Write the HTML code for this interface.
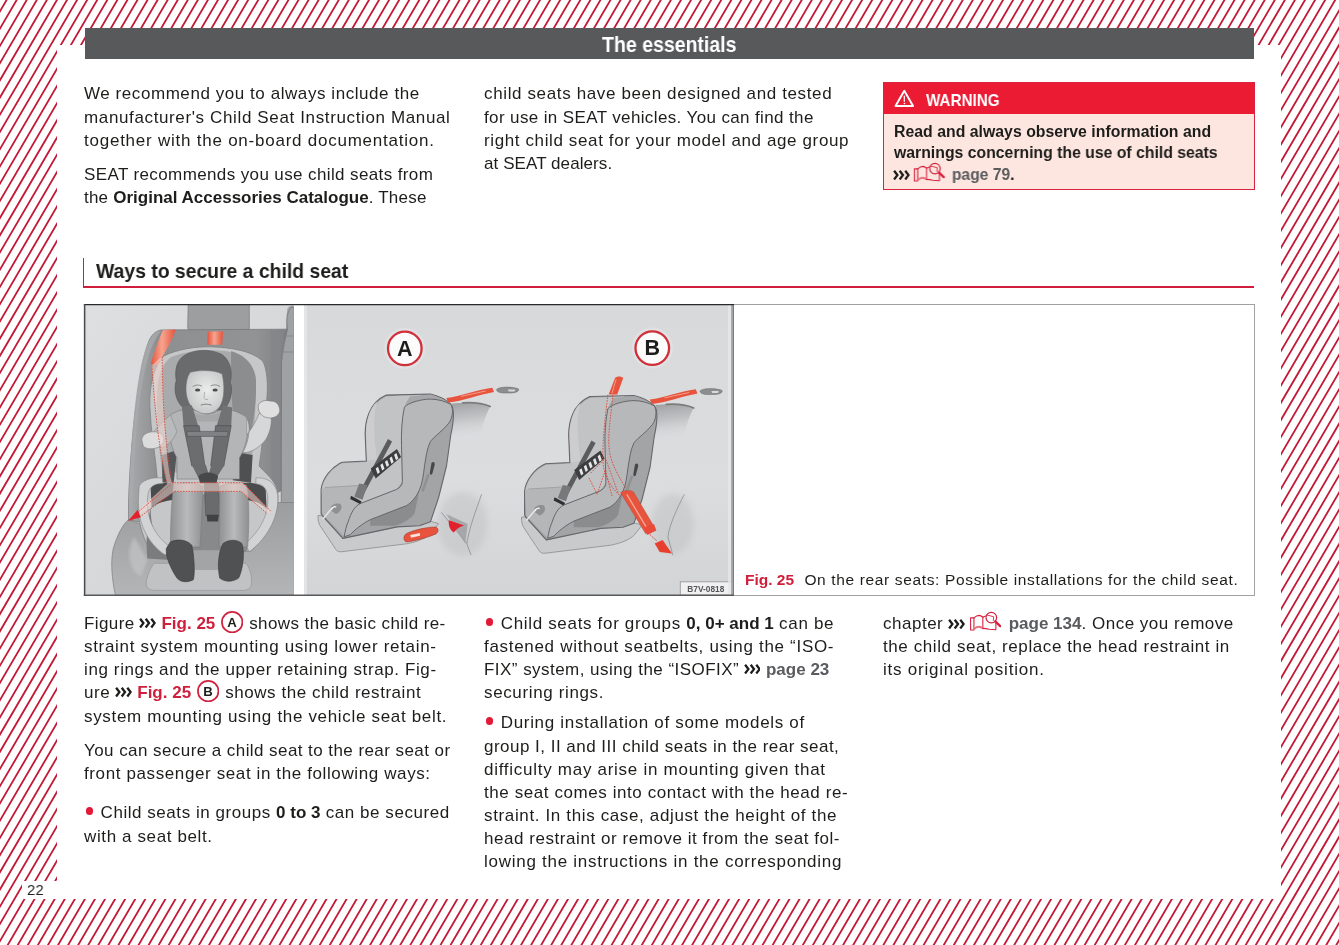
<!DOCTYPE html>
<html lang="en"><head><meta charset="utf-8"><title>The essentials</title>
<style>
html,body{margin:0;padding:0}
body{width:1339px;height:945px;position:relative;overflow:hidden;background:#fff;font-family:"Liberation Sans",sans-serif}
.bg{position:absolute;left:0;top:0;display:block}
.page{position:absolute;left:57.3px;top:44.8px;width:1223.7px;height:853.9px;background:#fff}
.pnbox{position:absolute;left:21.7px;top:881.1px;width:37px;height:17.6px;background:#fff}
.hbar{position:absolute;left:85px;top:28.4px;width:1168.6px;height:30.2px;background:#58595b}
.warn{position:absolute;left:883.2px;top:81.7px;width:369.4px;height:106px;border:1.2px solid #d8243f;background:#fde6df;box-sizing:content-box}
.warnhead{position:absolute;left:0;top:0;width:100%;height:31.8px;background:#ea1b33}
.tri{position:absolute;left:894.4px;top:88.9px;display:block}
.shv{position:absolute;left:83.4px;top:258.2px;width:1.1px;height:28.8px;background:#d01f3c}
.shh{position:absolute;left:83.3px;top:286.3px;width:1170.5px;height:1.3px;background:#d01f3c}
.frame{position:absolute;left:84.5px;top:304.3px;width:1168.3px;height:289.6px;border:1px solid #a0a1a3;background:#fff}
.illu{will-change:transform;position:absolute;left:83px;top:304px;display:block}
.ln{will-change:transform;position:absolute;white-space:nowrap;font-size:17px;line-height:20px;height:20px;color:#1d1d1b;transform-origin:0 0}
.ln b{font-weight:bold;letter-spacing:0}
.in{display:inline-block}
.bl{display:inline-block;width:0;height:0}
.wb{font-weight:bold;font-size:15.8px}
.wt{font-weight:bold;font-size:17px;color:#fff}
.ht{font-weight:bold;font-size:21.6px;color:#fff}
.sh{font-weight:bold;font-size:21px}
.cap{font-size:15.5px}
.capfig{display:inline-block;width:59.4px;letter-spacing:-0.7px}
.pn{font-size:15.5px;letter-spacing:0.4px}
.red{color:#d01f3c}
.grey{color:#5a5b5e;font-weight:bold}
.chev{display:inline-block;vertical-align:0.6px;margin:0 0.4px 0 -0.6px}
.circ{display:inline-block;vertical-align:-4.2px;margin:0 0.6px 0 0.6px}
.book{display:inline-block;vertical-align:-1.3px;margin:0 2.2px 0 -0.6px}
.bul{display:inline-block;width:7.6px;height:7.6px;border-radius:50%;background:#e21a37;vertical-align:3px;margin:0 2.2px 0 1.5px}

</style></head>
<body>
<svg class="bg" width="1339" height="945" viewBox="0 0 1339 945"><rect width="1339" height="945" fill="#fff"/><path d="M-12.36 -2L-567.15 947M-2.30 -2L-557.08 947M7.77 -2L-547.02 947M17.83 -2L-536.95 947M27.90 -2L-526.89 947M37.96 -2L-516.82 947M48.03 -2L-506.76 947M58.09 -2L-496.69 947M68.16 -2L-486.63 947M78.22 -2L-476.56 947M88.29 -2L-466.50 947M98.35 -2L-456.43 947M108.42 -2L-446.37 947M118.48 -2L-436.30 947M128.55 -2L-426.24 947M138.61 -2L-416.17 947M148.68 -2L-406.11 947M158.74 -2L-396.04 947M168.81 -2L-385.98 947M178.87 -2L-375.91 947M188.94 -2L-365.85 947M199.00 -2L-355.78 947M209.07 -2L-345.72 947M219.13 -2L-335.65 947M229.20 -2L-325.59 947M239.26 -2L-315.52 947M249.33 -2L-305.46 947M259.39 -2L-295.39 947M269.46 -2L-285.33 947M279.52 -2L-275.26 947M289.59 -2L-265.20 947M299.65 -2L-255.13 947M309.72 -2L-245.07 947M319.78 -2L-235.00 947M329.85 -2L-224.94 947M339.91 -2L-214.87 947M349.98 -2L-204.81 947M360.04 -2L-194.74 947M370.11 -2L-184.68 947M380.17 -2L-174.61 947M390.24 -2L-164.55 947M400.30 -2L-154.48 947M410.37 -2L-144.42 947M420.43 -2L-134.35 947M430.50 -2L-124.29 947M440.56 -2L-114.22 947M450.63 -2L-104.16 947M460.69 -2L-94.09 947M470.76 -2L-84.03 947M480.82 -2L-73.96 947M490.89 -2L-63.90 947M500.95 -2L-53.83 947M511.02 -2L-43.77 947M521.08 -2L-33.70 947M531.15 -2L-23.64 947M541.21 -2L-13.57 947M551.28 -2L-3.51 947M561.34 -2L6.56 947M571.41 -2L16.62 947M581.47 -2L26.69 947M591.54 -2L36.75 947M601.60 -2L46.82 947M611.67 -2L56.88 947M621.73 -2L66.95 947M631.80 -2L77.01 947M641.86 -2L87.08 947M651.93 -2L97.14 947M661.99 -2L107.21 947M672.06 -2L117.27 947M682.12 -2L127.34 947M692.19 -2L137.40 947M702.25 -2L147.47 947M712.32 -2L157.53 947M722.38 -2L167.60 947M732.45 -2L177.66 947M742.51 -2L187.73 947M752.58 -2L197.79 947M762.64 -2L207.86 947M772.71 -2L217.92 947M782.77 -2L227.99 947M792.84 -2L238.05 947M802.90 -2L248.12 947M812.97 -2L258.18 947M823.03 -2L268.25 947M833.10 -2L278.31 947M843.16 -2L288.38 947M853.23 -2L298.44 947M863.29 -2L308.51 947M873.36 -2L318.57 947M883.42 -2L328.64 947M893.49 -2L338.70 947M903.55 -2L348.77 947M913.62 -2L358.83 947M923.68 -2L368.90 947M933.75 -2L378.96 947M943.81 -2L389.03 947M953.88 -2L399.09 947M963.94 -2L409.16 947M974.01 -2L419.22 947M984.07 -2L429.29 947M994.14 -2L439.35 947M1004.20 -2L449.42 947M1014.27 -2L459.48 947M1024.33 -2L469.55 947M1034.40 -2L479.61 947M1044.46 -2L489.68 947M1054.53 -2L499.74 947M1064.59 -2L509.81 947M1074.66 -2L519.87 947M1084.72 -2L529.94 947M1094.79 -2L540.00 947M1104.85 -2L550.07 947M1114.92 -2L560.13 947M1124.98 -2L570.20 947M1135.05 -2L580.26 947M1145.11 -2L590.33 947M1155.18 -2L600.39 947M1165.24 -2L610.46 947M1175.31 -2L620.52 947M1185.37 -2L630.59 947M1195.44 -2L640.65 947M1205.50 -2L650.72 947M1215.57 -2L660.78 947M1225.63 -2L670.85 947M1235.70 -2L680.91 947M1245.76 -2L690.98 947M1255.83 -2L701.04 947M1265.89 -2L711.11 947M1275.96 -2L721.17 947M1286.02 -2L731.24 947M1296.09 -2L741.30 947M1306.15 -2L751.37 947M1316.22 -2L761.43 947M1326.28 -2L771.50 947M1336.35 -2L781.56 947M1346.41 -2L791.63 947M1356.48 -2L801.69 947M1366.54 -2L811.76 947M1376.61 -2L821.82 947M1386.67 -2L831.89 947M1396.74 -2L841.95 947M1406.80 -2L852.02 947M1416.87 -2L862.08 947M1426.93 -2L872.15 947M1437.00 -2L882.21 947M1447.06 -2L892.28 947M1457.13 -2L902.34 947M1467.19 -2L912.41 947M1477.26 -2L922.47 947M1487.32 -2L932.54 947M1497.39 -2L942.60 947M1507.45 -2L952.67 947M1517.52 -2L962.73 947M1527.58 -2L972.80 947M1537.65 -2L982.86 947M1547.71 -2L992.93 947M1557.78 -2L1002.99 947M1567.84 -2L1013.06 947M1577.91 -2L1023.12 947M1587.97 -2L1033.19 947M1598.04 -2L1043.25 947M1608.10 -2L1053.32 947M1618.17 -2L1063.38 947M1628.23 -2L1073.45 947M1638.30 -2L1083.51 947M1648.36 -2L1093.58 947M1658.43 -2L1103.64 947M1668.49 -2L1113.71 947M1678.56 -2L1123.77 947M1688.62 -2L1133.84 947M1698.69 -2L1143.90 947M1708.75 -2L1153.97 947M1718.82 -2L1164.03 947M1728.88 -2L1174.10 947M1738.95 -2L1184.16 947M1749.01 -2L1194.23 947M1759.08 -2L1204.29 947M1769.14 -2L1214.36 947M1779.21 -2L1224.42 947M1789.27 -2L1234.49 947M1799.34 -2L1244.55 947M1809.40 -2L1254.62 947M1819.47 -2L1264.68 947M1829.53 -2L1274.75 947M1839.60 -2L1284.81 947M1849.66 -2L1294.88 947M1859.73 -2L1304.94 947M1869.79 -2L1315.01 947M1879.86 -2L1325.07 947M1889.92 -2L1335.14 947M1899.99 -2L1345.20 947" stroke="#c21a36" stroke-width="1.8" fill="none"/></svg>
<svg width="0" height="0" style="position:absolute"><defs>
<g id="triicon" fill="none" stroke="#fff" stroke-linejoin="round" stroke-linecap="round">
<path d="M11 1.9 L20.4 18.3 L1.6 18.3 Z" stroke-width="2.1"/>
<path d="M11 7.6 L11 13.2" stroke-width="1.3"/><circle cx="11" cy="15.6" r="0.45" stroke-width="0.9"/>
</g>
<g id="chevicon" fill="none" stroke="#1d1d1b" stroke-width="2.3" stroke-linejoin="miter" stroke-linecap="butt">
<path d="M1.1 0.7 L4.4 5.1 L1.1 9.5"/><path d="M6.7 0.7 L10 5.1 L6.7 9.5"/><path d="M12.3 0.7 L15.6 5.1 L12.3 9.5"/>
</g>
<g id="bookicon" fill="none" stroke="#d6213f" stroke-width="1.1" stroke-linejoin="round" stroke-linecap="round">
<path d="M0.6 7 L4 7 L4 19.2 L0.6 19.2 Z"/>
<path d="M4 7 C5.5 5.6 7.5 4.4 9.2 4.4 C10.8 4.5 12 5.4 13 6.3 L13 17.6"/>
<path d="M4 18.4 C5.6 16.8 7.6 15.8 9 15.9 C10.6 16 12 16.8 13 17.6" stroke-width="1.9" stroke="#e8707f"/>
<path d="M13 17.6 C15 17.6 17.5 17.9 19.5 18.4 L26.2 19 L26.2 11.2"/>
<path d="M13 6.3 C14 5.6 15 5.2 16 5"/>
<circle cx="21.6" cy="6.7" r="5.4" stroke-width="1.2" stroke="#cf2340"/>
<path d="M17 4 L24 5.8 L23.6 9.6" stroke-width="0.9"/>
<path d="M25.6 10.5 L30.6 15.3" stroke-width="2.3" stroke="#d6213f"/>
</g>
</defs></svg>

<div class="page"></div><div class="pnbox"></div>
<div class="hbar"></div>
<div class="warn"><div class="warnhead"></div></div>
<svg class="tri" viewBox="0 0 22 20" width="20.6" height="18.7"><use href="#triicon"/></svg>
<div class="shv"></div><div class="shh"></div>
<div class="frame"></div>
<svg class="illu" width="651" height="292" viewBox="83 304 651 292">
<defs>
<linearGradient id="gbgL" x1="0" y1="0" x2="1" y2="1"><stop offset="0" stop-color="#dedfe1"/><stop offset="1" stop-color="#d0d1d3"/></linearGradient>
<linearGradient id="gbgR" x1="0" y1="0" x2="0" y2="1"><stop offset="0" stop-color="#d8d9db"/><stop offset="0.6" stop-color="#dcdddf"/><stop offset="1" stop-color="#d3d4d6"/></linearGradient>
<linearGradient id="gbelt" x1="0" y1="0" x2="1" y2="0"><stop offset="0" stop-color="#e5533c"/><stop offset="0.45" stop-color="#f6a48f"/><stop offset="1" stop-color="#e5533c"/></linearGradient>
<linearGradient id="gback" x1="0" y1="0" x2="1" y2="0"><stop offset="0" stop-color="#a9aaac"/><stop offset="0.18" stop-color="#8e8f91"/><stop offset="0.8" stop-color="#929395"/><stop offset="1" stop-color="#7f8082"/></linearGradient>
<linearGradient id="gcush" x1="0" y1="0" x2="0" y2="1"><stop offset="0" stop-color="#9c9d9f"/><stop offset="1" stop-color="#b4b5b7"/></linearGradient>
<radialGradient id="gface" cx="0.55" cy="0.45" r="0.6"><stop offset="0" stop-color="#ececec"/><stop offset="1" stop-color="#c4c5c6"/></radialGradient>
<linearGradient id="gleg" x1="0" y1="0" x2="1" y2="0"><stop offset="0" stop-color="#8f9092"/><stop offset="0.5" stop-color="#b9babc"/><stop offset="1" stop-color="#8f9092"/></linearGradient>
<linearGradient id="gshelf" x1="0" y1="0" x2="0.15" y2="1"><stop offset="0" stop-color="#9a9b9d" stop-opacity="0.95"/><stop offset="0.45" stop-color="#b4b5b7" stop-opacity="0.7"/><stop offset="1" stop-color="#d6d7d9" stop-opacity="0"/></linearGradient>
<filter id="blur3" x="-30%" y="-30%" width="160%" height="160%"><feGaussianBlur stdDeviation="3"/></filter>
<filter id="blur2" x="-30%" y="-30%" width="160%" height="160%"><feGaussianBlur stdDeviation="1.6"/></filter>
<filter id="blur1" x="-30%" y="-30%" width="160%" height="160%"><feGaussianBlur stdDeviation="0.7"/></filter>
<clipPath id="clipL"><rect x="85" y="305" width="208.7" height="290"/></clipPath>
<clipPath id="clipR"><rect x="304.1" y="305" width="428" height="290"/></clipPath>
</defs>
<g clip-path="url(#clipL)">
<rect x="85" y="305" width="209" height="290" fill="url(#gbgL)"/>
<path d="M 287.1 309.9 C 287.9 306.6 290.4 305.8 292.9 305.8 L 294.5 305.8 L 294.5 490.6 L 282.2 490.6 L 284.6 349.3 Z" fill="#a3a4a6"/>
<path d="M 188.2 304.6 L 249.3 304.6 L 249.3 327.9 C 249.3 329.9 247.7 330.9 245.2 330.9 L 191.8 330.9 C 189.3 330.9 187.7 329.6 187.7 327.1 Z" fill="#9d9ea0" stroke="#77787a" stroke-width="0.7"/>
<path d="M 162.2 329.9 L 287.3 329.2 C 284.6 339.4 282.2 349.3 281.5 360.8 L 281.5 490.6 L 200.0 530.0 L 128.5 520.2 C 128.0 464.3 137.6 369.0 148.3 342.7 C 150.7 335.3 155.7 330.4 162.2 329.9 Z" fill="url(#gback)" stroke="#707173" stroke-width="0.7"/>
<path d="M 157.3 331.2 C 150.7 335.3 147.4 342.7 142.5 359.2 C 135.9 385.4 129.4 447.9 128.7 519.4 L 132.7 516.9 C 133.0 447.9 140.0 385.4 147.4 360.8 C 149.9 350.9 154.0 339.4 160.9 331.5 Z" fill="#a9aaac" opacity="0.8"/>
<path d="M 270.7 329.9 L 282.2 329.9 L 282.2 490.3 L 271.5 490.3 Z" fill="#858688" opacity="0.8"/>
<path d="M287.5 329 C286 320 287 312 291 307.5 L294 307 L294 600 L281 600 L281.5 362 C283 350 285 339 287.5 329 Z" fill="#a0a1a3" stroke="#707173" stroke-width="0.7"/>
<path d="M282.5 352 L294 352 M286 336 L294 336" stroke="#7d7e80" stroke-width="0.7" fill="none"/>
<path d="M 128.5 519.8 C 122.8 523.9 116.2 537.0 112.9 550.2 C 110.5 563.3 112.1 579.7 115.4 595.3 L 294.5 595.3 L 294.5 502.5 L 249.3 502.5 L 200.0 527.2 L 150.7 527.2 Z" fill="url(#gcush)" stroke="#7d7e80" stroke-width="0.7"/>
<path d="M 134.3 537.0 C 126.1 550.2 127.7 569.9 140.9 576.4 L 147.4 560.0 Z" fill="#c3c4c6" opacity="0.7" filter="url(#blur2)"/>
<path d="M 163.9 355.9 C 177.0 349.3 196.7 346.3 211.5 346.8 C 232.9 347.7 251.0 350.9 262.5 360.8 C 267.4 369.0 268.2 385.4 266.6 401.9 C 264.9 424.9 261.6 447.9 259.2 466.0 C 265.7 474.2 277.2 480.7 278.1 495.5 C 278.9 513.6 267.4 533.3 251.0 551.4 L 150.7 551.4 C 140.9 535.0 135.9 513.6 139.2 497.2 C 141.7 487.3 150.7 480.7 157.3 479.1 C 155.7 456.1 150.7 431.4 149.9 406.8 C 149.1 385.4 154.0 365.7 163.9 355.9 Z" fill="#c6c7c9" stroke="#7f8082" stroke-width="0.8"/>
<path d="M 170.4 357.5 C 183.6 351.8 200.0 350.1 213.2 350.3 C 224.7 350.6 232.9 351.8 239.5 354.2 C 249.3 359.2 255.9 369.0 255.9 385.4 C 255.9 415.0 252.6 447.9 251.0 472.5 L 162.2 472.5 C 158.9 447.9 155.7 415.0 157.3 392.0 C 158.1 375.6 162.2 364.1 170.4 357.5 Z" fill="#a9aaac"/>
<path d="M 231.2 350.9 C 241.1 354.2 254.2 362.4 255.9 378.9 C 256.7 398.6 254.2 418.3 251.0 431.4 L 232.9 415.0 C 231.2 392.0 230.4 370.7 231.2 350.9 Z" fill="#8c8d8f"/>
<path d="M 232.9 451.6 L 252.6 454.9 L 251.0 482.8 L 232.9 480.3 Z" fill="#4f5052"/>
<path d="M 162.2 454.9 L 177.0 449.9 L 173.7 482.8 L 162.2 482.0 Z" fill="#55565a"/>
<path d="M 150.7 487.7 C 154.0 483.6 162.2 482.0 173.7 482.8 L 173.7 500.0 C 165.5 500.9 157.3 502.5 151.5 507.4 Z" fill="#4a4b4d"/>
<path d="M 242.7 482.8 C 254.2 482.0 262.5 484.4 265.7 489.4 L 266.6 509.1 C 260.8 502.5 252.6 500.0 242.7 500.0 Z" fill="#4a4b4d"/>
<path d="M 173.7 494.3 L 246.0 494.3 L 247.7 550.2 C 232.9 560.0 190.2 560.0 172.1 550.2 Z" fill="#88898b"/>
<path d="M 150.7 507.4 C 150.7 527.2 155.7 543.6 170.4 551.8 L 170.4 560.0 L 147.4 558.4 C 145.8 543.6 146.6 523.9 150.7 507.4 Z" fill="#7b7c7e"/>
<path d="M 139.2 486.1 C 142.5 480.3 150.7 477.0 162.2 477.9 L 163.0 483.6 C 155.7 483.1 149.9 486.1 148.3 492.7 C 145.0 510.7 150.7 533.7 170.4 546.9 L 165.5 555.1 C 147.4 543.6 137.6 522.2 138.4 499.2 Z" fill="#d2d3d5" stroke="#858688" stroke-width="0.6"/>
<path d="M 255.9 477.9 C 267.4 477.0 275.6 482.8 277.6 494.3 C 279.7 514.0 269.0 537.0 249.3 551.8 L 245.2 543.6 C 260.8 530.4 269.0 514.0 267.7 495.9 C 266.6 487.7 262.5 484.1 255.9 483.8 Z" fill="#d2d3d5" stroke="#858688" stroke-width="0.6"/>
<path d="M 154.0 563.3 L 246.0 563.3 C 251.0 569.9 252.6 579.7 251.0 586.3 C 249.3 589.6 246.0 590.4 242.7 590.4 L 154.0 590.4 C 148.3 590.4 145.0 586.3 146.6 579.7 C 148.3 573.2 150.7 567.4 154.0 563.3 Z" fill="#c1c2c4" stroke="#909193" stroke-width="0.6"/>
<path d="M 193.4 550.2 L 219.7 550.2 L 218.9 569.9 L 194.3 569.9 Z" fill="#a3a4a6"/>
<path d="M 183.6 355.9 C 193.4 349.3 209.9 348.5 221.4 354.2 C 229.6 359.2 232.9 370.7 230.4 382.2 C 233.7 392.0 229.6 405.2 223.0 410.1 L 186.9 410.1 C 177.0 405.2 172.9 392.0 176.2 380.5 C 174.5 369.0 177.0 360.8 183.6 355.9 Z" fill="#6a6b6d" stroke="#505153" stroke-width="0.6"/>
<path d="M 190.2 372.3 C 200.0 369.8 213.2 369.8 222.2 373.9 C 224.7 385.4 224.7 398.6 219.7 406.8 C 214.8 413.4 206.6 415.0 200.0 413.4 C 191.8 410.1 186.9 401.9 186.1 392.0 C 185.6 383.8 186.9 377.2 190.2 372.3 Z" fill="url(#gface)" stroke="#6c6d6f" stroke-width="0.5"/>
<path d="M 192.6 386.8 C 195.4 384.6 199.2 384.6 202.0 386.3 M 210.7 385.9 C 213.5 384.3 217.3 384.6 220.1 386.6" fill="none" stroke="#77787a" stroke-width="0.8"/>
<ellipse cx="197.6" cy="390.0" rx="2.6" ry="1.5" fill="#4a4b4d"/><ellipse cx="215.1" cy="389.9" rx="2.6" ry="1.5" fill="#4a4b4d"/>
<path d="M 200.8 405.2 C 204.1 403.8 208.2 403.8 211.5 405.2" fill="none" stroke="#77787a" stroke-width="0.9"/>
<path d="M 204.6 392.0 C 204.0 396.1 203.6 398.6 205.3 399.6 L 208.2 399.2" fill="none" stroke="#9a9b9d" stroke-width="0.7"/>
<path d="M 170.4 415.0 C 180.3 408.4 190.2 407.6 198.4 411.7 C 203.3 415.0 209.9 415.0 216.4 411.7 C 226.3 407.6 237.8 410.1 247.7 418.3 C 249.3 431.4 246.0 447.9 239.5 457.7 L 239.5 479.1 L 177.0 479.1 L 177.0 457.7 C 170.4 447.9 168.0 431.4 170.4 415.0 Z" fill="#b4b5b7" stroke="#77787a" stroke-width="0.6"/>
<path d="M 193.4 411.7 C 200.0 416.7 213.2 416.7 221.4 410.9 L 221.4 421.6 L 193.4 421.6 Z" fill="#a6a7a9"/>
<path d="M 170.4 415.0 C 163.9 419.9 157.3 428.2 150.7 434.7 L 162.2 447.9 C 168.8 444.6 173.7 439.7 177.0 431.4 Z" fill="#b9babc" stroke="#7d7e80" stroke-width="0.5"/>
<path d="M 141.7 439.7 C 142.5 433.1 150.7 430.6 158.1 432.3 C 163.9 433.9 165.5 439.7 162.2 444.6 C 157.3 449.5 147.4 450.3 143.3 446.2 Z" fill="#dcdcdd" stroke="#7d7e80" stroke-width="0.6"/>
<path d="M 246.8 418.3 C 251.0 424.9 249.3 441.3 242.7 452.8 C 251.0 452.8 259.2 447.9 265.7 439.7 C 270.7 431.4 272.3 421.6 270.7 415.0 L 259.2 413.4 C 255.9 421.6 251.0 429.8 246.8 434.7 Z" fill="#d6d7d8" stroke="#7d7e80" stroke-width="0.6"/>
<path d="M 258.3 405.2 C 260.0 401.1 265.7 399.4 269.9 401.1 C 275.6 400.2 280.5 405.2 279.7 411.7 C 278.1 416.7 272.3 419.1 266.6 417.5 C 261.6 416.7 257.5 411.7 258.3 405.2 Z" fill="#dfdfe0" stroke="#6f7072" stroke-width="0.6"/>
<path d="M 181.9 406.8 L 191.8 405.2 L 198.4 426.5 L 183.6 426.5 Z" fill="#717274"/>
<path d="M 223.0 405.2 L 232.1 407.6 L 231.2 426.5 L 216.4 426.5 Z" fill="#717274"/>
<path d="M 183.6 425.7 L 199.2 425.7 L 204.9 466.0 L 191.8 466.0 Z" fill="#6c6d6f" stroke="#47484a" stroke-width="0.6"/>
<path d="M 215.6 425.7 L 231.2 425.7 L 223.8 466.0 L 210.7 466.0 Z" fill="#6c6d6f" stroke="#47484a" stroke-width="0.6"/>
<path d="M 186.9 431.4 L 228.0 431.4 L 227.6 436.4 L 187.2 436.4 Z" fill="#808183" stroke="#47484a" stroke-width="0.5"/>
<path d="M 191.8 464.7 L 205.8 464.7 L 209.9 477.9 L 198.4 477.9 Z M 211.5 464.7 L 224.7 464.7 L 216.4 477.9 L 207.4 477.9 Z" fill="#6b6c6e"/>
<path d="M 198.4 476.2 C 203.3 471.3 213.2 471.3 218.1 476.2 L 216.4 483.6 L 200.0 483.6 Z" fill="#47484a"/>
<path d="M 204.1 483.6 L 218.9 483.6 L 219.7 515.7 L 205.8 515.7 Z" fill="#6a6b6d" stroke="#4c4d4f" stroke-width="0.5"/>
<path d="M 206.6 514.8 L 218.9 514.8 L 218.1 521.4 L 207.4 521.4 Z" fill="#414244"/>
<path d="M 173.7 484.4 C 183.6 482.0 196.7 482.8 203.3 486.1 L 200.0 546.9 L 170.4 546.9 C 170.4 523.9 171.3 502.5 173.7 484.4 Z" fill="url(#gleg)" stroke="#77787a" stroke-width="0.5"/>
<path d="M 219.7 486.1 C 228.0 482.5 239.5 482.5 246.8 485.3 C 249.3 502.5 249.3 523.9 247.7 546.9 L 218.9 546.9 Z" fill="url(#gleg)" stroke="#77787a" stroke-width="0.5"/>
<path d="M 170.4 541.9 C 177.0 538.7 186.9 539.5 191.8 545.2 C 194.3 558.4 195.1 571.5 193.4 579.7 C 186.9 583.0 180.3 582.2 177.0 578.1 C 170.4 568.2 165.5 556.7 166.3 548.5 Z" fill="#505153" stroke="#3a3b3d" stroke-width="0.6"/>
<path d="M 223.0 543.6 C 229.6 538.7 237.8 539.5 241.9 543.6 C 245.2 553.4 242.7 569.9 238.6 578.1 C 232.9 582.2 224.7 582.2 219.7 578.1 C 217.3 566.6 218.1 553.4 223.0 543.6 Z" fill="#505153" stroke="#3a3b3d" stroke-width="0.6"/>
<path d="M 163.0 330.1 L 175.7 329.6 C 172.1 341.1 163.9 354.2 157.3 365.7 L 150.7 364.1 C 154.0 352.6 158.9 339.4 163.0 330.1 Z" fill="url(#gbelt)"/>
<path d="M 207.9 331.5 L 223.0 331.5 L 222.2 344.7 L 207.4 344.7 Z" fill="url(#gbelt)"/>
<path d="M 151.5 365.7 L 162.2 355.9 C 163.0 385.4 163.9 424.9 167.2 456.1 C 168.8 470.9 170.4 479.1 172.1 482.7 L 242.7 482.7 L 271.5 512.0 L 267.4 513.6 L 241.1 491.4 L 174.5 491.4 L 134.3 518.5 L 132.7 515.2 L 167.2 484.0 C 162.2 464.3 157.3 431.4 155.7 406.8 Z" fill="#f3d5cd" opacity="0.55"/>
<path d="M 152.0 365.7 C 154.0 398.6 158.1 447.9 167.2 483.2 M 162.2 356.7 C 162.2 398.6 165.5 447.9 172.1 482.7 L 242.7 482.7 L 271.5 512.0 M 174.5 491.4 L 241.1 491.4 L 267.4 513.6 M 170.4 484.9 L 134.3 515.2 M 174.5 491.4 L 137.6 518.5" stroke="#d9483a" stroke-width="0.9" stroke-dasharray="1.6 1.2" fill="none"/>
<path d="M 137.9 509.4 L 140.5 517.3 L 128.0 520.9 Z" fill="#e3212d"/>
</g>
<g clip-path="url(#clipR)">
<rect x="303" y="305" width="430" height="290" fill="url(#gbgR)"/>
<rect x="304" y="305" width="3" height="290" fill="#ececed" opacity="0.6"/>
<ellipse cx="462.7" cy="523.9" rx="25" ry="32" fill="#b4b5b7" opacity="0.33" filter="url(#blur3)"/>
<path d="M 481.6 494.3 C 475.9 510.7 469.3 527.2 466.8 543.6 L 471.0 555.1" fill="none" stroke="#8d8e90" stroke-width="0.8"/>
<path d="M 441.4 512.4 L 466.8 543.6" fill="none" stroke="#8d8e90" stroke-width="0.8"/>
<path d="M 446.3 514.0 L 467.7 523.9 L 465.2 543.6 Z" fill="#9c9d9f" opacity="0.8"/>
<g transform="translate(0 0)">
<path d="M 452.1 403.5 C 463.9 402.2 480.8 402.2 490.5 406.0 C 485.9 414.0 481.6 427.5 479.5 439.5 L 450.3 439.5 L 451.2 420.8 Z" fill="url(#gshelf)" filter="url(#blur1)"/>
<path d="M 462.7 402.9 C 472.6 402.2 482.5 403.2 490.3 406.5" fill="none" stroke="#7b7c7e" stroke-width="1.6" stroke-linecap="round" filter="url(#blur1)"/>
<path d="M 318.0 515.6 C 317.8 520.3 318.8 523.6 320.1 525.8 L 336.1 549.8 C 337.2 551.4 339.5 552.1 342.0 551.7 L 406.5 543.8 C 418.4 541.7 426.6 537.6 430.5 533.8 L 438.6 523.6 L 427.4 520.3 L 397.0 526.9 L 342.8 538.4 L 321.4 515.4 Z" fill="#c9cacc" stroke="#8a8b8d" stroke-width="0.8"/>
<path d="M 321.1 513.6 L 321.1 489.5 C 322.3 478.4 331.3 466.9 342.1 462.3 L 366.3 461.0 L 365.3 437.2 C 364.5 422.6 368.3 402.9 386.3 395.1 L 430.5 394.0 C 439.7 396.3 447.1 400.4 450.7 404.2 C 454.5 408.6 454.2 419.3 450.7 435.2 L 446.6 465.5 L 438.6 497.5 L 430.5 521.7 L 419.5 525.8 L 397.0 526.9 L 342.8 538.4 L 322.3 515.4 Z" fill="#a3a4a6" stroke="#66676a" stroke-width="1.1" stroke-linejoin="round"/>
<path d="M 366.1 435.7 C 365.5 422.6 369.4 404.5 386.7 396.3 L 420.0 395.0 L 450.6 404.2 L 404.4 407.1 L 401.5 445.3 L 402.4 481.4 L 396.4 489.5 L 360.2 503.6 L 348.2 521.7 L 344.1 536.0 L 322.7 514.3 L 321.8 489.5 C 323.1 479.3 331.6 467.8 342.5 463.3 L 367.1 462.0 Z" fill="#c2c3c5"/>
<path d="M 377.3 401.2 C 372.4 412.7 374.0 439.0 377.3 459.5 L 367.4 460.7 L 366.1 435.7 C 365.8 422.6 369.1 407.8 377.3 401.2 Z" fill="#cfd0d2" opacity="0.8"/>
<path d="M 410.2 396.3 L 430.5 394.6 C 439.7 397.1 446.3 400.9 450.6 404.2 C 444.7 401.2 438.1 399.2 430.5 399.1 C 420.0 399.2 408.5 402.9 404.4 407.1 C 406.1 402.9 407.7 399.6 410.2 396.3 Z" fill="#a6a7a9"/>
<path d="M 321.8 489.5 C 322.7 488.3 324.1 487.6 325.4 487.5 L 358.2 485.5 C 359.2 491.6 360.0 498.2 360.2 503.6 C 354.3 506.4 351.0 513.0 348.2 521.7 L 344.1 536.0 L 322.7 514.3 Z" fill="#b5b6b8"/>
<path d="M 325.0 487.5 L 358.2 485.5" fill="none" stroke="#8f9092" stroke-width="0.6"/>
<path d="M 370.2 519.7 L 406.5 505.6 C 413.4 501.4 417.6 495.7 419.5 489.5 L 414.6 513.6 C 410.2 519.5 401.9 524.5 394.4 525.8 L 370.2 525.8 Z" fill="#8b8c8e"/>
<path d="M 450.6 404.2 C 453.7 408.6 452.9 417.7 448.8 423.2 C 443.0 430.8 434.8 435.7 430.5 441.3 C 426.6 448.9 425.8 458.7 424.6 465.5 C 423.3 475.2 422.5 483.4 419.5 489.5 C 416.7 496.5 411.8 502.3 406.5 505.6 L 370.2 519.7 C 362.5 523.6 354.3 530.2 350.2 534.8 L 344.1 536.8 C 345.3 531.0 346.1 526.1 348.2 521.7 C 351.0 513.0 354.3 506.4 360.2 503.6 L 396.4 489.5 C 400.3 487.5 402.3 485.0 402.4 481.4 L 401.5 445.3 C 401.1 432.4 401.9 419.3 404.4 407.1 C 408.5 402.9 420.0 399.2 430.5 399.1 C 438.1 399.2 444.7 401.2 450.6 404.2 Z" fill="#b7b8ba" stroke="#66676a" stroke-width="1" stroke-linejoin="round"/>
<path d="M 431.5 462.8 C 433.2 461.4 435.3 462.0 434.6 465.3 L 432.3 473.8 C 431.2 475.5 429.4 474.5 429.9 472.2 Z" fill="#47484a"/>
<path d="M 427.4 473.8 L 429.9 474.7 L 423.6 491.9 L 421.3 490.8 Z" fill="#909193"/>
<path d="M 388.0 439.0 L 392.1 441.5 L 362.5 496.5 L 358.4 494.1 Z" fill="#5b5c5e"/>
<path d="M 370.7 468.6 L 397.0 448.9 L 401.1 457.1 L 375.7 478.4 Z" fill="#3d3e40"/>
<path d="M 375.7 468.6 L 378.0 466.8 L 379.9 472.2 L 377.6 474.0 Z" fill="#e8e8e9"/>
<path d="M 380.3 465.1 L 382.6 463.3 L 384.5 468.8 L 382.2 470.6 Z" fill="#e8e8e9"/>
<path d="M 384.9 461.7 L 387.2 459.9 L 389.1 465.3 L 386.8 467.1 Z" fill="#e8e8e9"/>
<path d="M 389.5 458.2 L 391.8 456.4 L 393.7 461.9 L 391.4 463.7 Z" fill="#e8e8e9"/>
<path d="M 394.1 454.8 L 396.4 453.0 L 398.3 458.4 L 396.0 460.2 Z" fill="#e8e8e9"/>
<path d="M 359.2 483.4 L 367.4 485.0 L 362.5 499.8 L 354.3 496.5 Z" fill="#77787a"/>
<path d="M 351.0 495.7 L 361.7 501.4 L 360.0 503.9 L 350.2 499.0 Z" fill="#2f3032"/>
<path d="M 330.1 509.7 C 330.1 505.1 335.4 502.4 340.3 503.9 C 343.1 507.2 340.8 512.3 335.9 513.9 Z" fill="#8f9092"/>
<path d="M 323.1 518.7 L 332.1 508.0" fill="none" stroke="#e4e4e5" stroke-width="1.6" stroke-linecap="round"/>
<path d="M 331.3 509.7 C 332.1 507.2 334.6 506.0 336.2 507.2" fill="none" stroke="#f0f0f0" stroke-width="1.3"/>
<path d="M 446.3 397.9 C 461.1 396.3 475.9 389.7 492.3 387.7 L 494.0 392.0 C 479.2 394.6 462.7 401.2 448.3 402.5 Z" fill="#e8533d"/>
<path d="M 461.1 396.3 L 485.7 391.0" stroke="#f6a58f" stroke-width="0.9" fill="none"/>
<path d="M 496.4 389.7 C 498.9 386.4 512.0 386.4 518.6 388.9 C 519.4 391.4 515.3 393.3 508.7 393.0 C 502.2 393.3 497.2 392.7 496.4 389.7 Z" fill="#8c8d8f" stroke="#6a6b6d" stroke-width="0.5"/>
<path d="M 507.9 389.4 L 515.3 389.4 L 514.5 391.4 L 508.7 391.4 Z" fill="#d9dadb"/>
</g>
<path d="M 405.2 534.5 C 410.2 530.4 429.9 526.3 436.4 527.2 C 438.9 528.8 438.4 532.1 436.4 533.7 C 429.9 537.0 411.8 541.9 406.1 541.9 C 403.3 540.3 403.3 537.0 405.2 534.5 Z" fill="#e8533d" stroke="#8a3a30" stroke-width="0.5"/>
<path d="M 410.2 535.0 L 420.0 532.9 L 420.0 535.7 L 411.0 537.8 Z" fill="#fbe3dc"/>
<path d="M 448.8 520.3 L 464.1 525.5 C 459.5 526.3 457.0 528.8 453.7 532.4 C 450.4 530.4 448.3 526.3 448.8 520.3 Z" fill="#e3212d"/>
<ellipse cx="672.8" cy="523.9" rx="21" ry="30" fill="#b4b5b7" opacity="0.33" filter="url(#blur3)"/>
<path d="M 684.3 494.3 C 677.7 507.4 669.5 523.9 667.9 537.0 L 672.8 555.1" fill="none" stroke="#8d8e90" stroke-width="0.8"/>
<path d="M 608.7 394.4 L 615.0 378.0 C 616.9 376.0 621.1 376.0 623.2 378.0 L 617.3 394.4 Z" fill="#e8533d"/>
<path d="M 616.1 379.3 L 612.0 393.3" stroke="#f6a58f" stroke-width="0.9" fill="none"/>
<g transform="translate(203.5 1.5)">
<path d="M 452.1 403.5 C 463.9 402.2 480.8 402.2 490.5 406.0 C 485.9 414.0 481.6 427.5 479.5 439.5 L 450.3 439.5 L 451.2 420.8 Z" fill="url(#gshelf)" filter="url(#blur1)"/>
<path d="M 462.7 402.9 C 472.6 402.2 482.5 403.2 490.3 406.5" fill="none" stroke="#7b7c7e" stroke-width="1.6" stroke-linecap="round" filter="url(#blur1)"/>
<path d="M 318.0 515.6 C 317.8 520.3 318.8 523.6 320.1 525.8 L 336.1 549.8 C 337.2 551.4 339.5 552.1 342.0 551.7 L 406.5 543.8 C 418.4 541.7 426.6 537.6 430.5 533.8 L 438.6 523.6 L 427.4 520.3 L 397.0 526.9 L 342.8 538.4 L 321.4 515.4 Z" fill="#c9cacc" stroke="#8a8b8d" stroke-width="0.8"/>
<path d="M 321.1 513.6 L 321.1 489.5 C 322.3 478.4 331.3 466.9 342.1 462.3 L 366.3 461.0 L 365.3 437.2 C 364.5 422.6 368.3 402.9 386.3 395.1 L 430.5 394.0 C 439.7 396.3 447.1 400.4 450.7 404.2 C 454.5 408.6 454.2 419.3 450.7 435.2 L 446.6 465.5 L 438.6 497.5 L 430.5 521.7 L 419.5 525.8 L 397.0 526.9 L 342.8 538.4 L 322.3 515.4 Z" fill="#a3a4a6" stroke="#66676a" stroke-width="1.1" stroke-linejoin="round"/>
<path d="M 366.1 435.7 C 365.5 422.6 369.4 404.5 386.7 396.3 L 420.0 395.0 L 450.6 404.2 L 404.4 407.1 L 401.5 445.3 L 402.4 481.4 L 396.4 489.5 L 360.2 503.6 L 348.2 521.7 L 344.1 536.0 L 322.7 514.3 L 321.8 489.5 C 323.1 479.3 331.6 467.8 342.5 463.3 L 367.1 462.0 Z" fill="#c2c3c5"/>
<path d="M 377.3 401.2 C 372.4 412.7 374.0 439.0 377.3 459.5 L 367.4 460.7 L 366.1 435.7 C 365.8 422.6 369.1 407.8 377.3 401.2 Z" fill="#cfd0d2" opacity="0.8"/>
<path d="M 410.2 396.3 L 430.5 394.6 C 439.7 397.1 446.3 400.9 450.6 404.2 C 444.7 401.2 438.1 399.2 430.5 399.1 C 420.0 399.2 408.5 402.9 404.4 407.1 C 406.1 402.9 407.7 399.6 410.2 396.3 Z" fill="#a6a7a9"/>
<path d="M 321.8 489.5 C 322.7 488.3 324.1 487.6 325.4 487.5 L 358.2 485.5 C 359.2 491.6 360.0 498.2 360.2 503.6 C 354.3 506.4 351.0 513.0 348.2 521.7 L 344.1 536.0 L 322.7 514.3 Z" fill="#b5b6b8"/>
<path d="M 325.0 487.5 L 358.2 485.5" fill="none" stroke="#8f9092" stroke-width="0.6"/>
<path d="M 370.2 519.7 L 406.5 505.6 C 413.4 501.4 417.6 495.7 419.5 489.5 L 414.6 513.6 C 410.2 519.5 401.9 524.5 394.4 525.8 L 370.2 525.8 Z" fill="#8b8c8e"/>
<path d="M 450.6 404.2 C 453.7 408.6 452.9 417.7 448.8 423.2 C 443.0 430.8 434.8 435.7 430.5 441.3 C 426.6 448.9 425.8 458.7 424.6 465.5 C 423.3 475.2 422.5 483.4 419.5 489.5 C 416.7 496.5 411.8 502.3 406.5 505.6 L 370.2 519.7 C 362.5 523.6 354.3 530.2 350.2 534.8 L 344.1 536.8 C 345.3 531.0 346.1 526.1 348.2 521.7 C 351.0 513.0 354.3 506.4 360.2 503.6 L 396.4 489.5 C 400.3 487.5 402.3 485.0 402.4 481.4 L 401.5 445.3 C 401.1 432.4 401.9 419.3 404.4 407.1 C 408.5 402.9 420.0 399.2 430.5 399.1 C 438.1 399.2 444.7 401.2 450.6 404.2 Z" fill="#b7b8ba" stroke="#66676a" stroke-width="1" stroke-linejoin="round"/>
<path d="M 431.5 462.8 C 433.2 461.4 435.3 462.0 434.6 465.3 L 432.3 473.8 C 431.2 475.5 429.4 474.5 429.9 472.2 Z" fill="#47484a"/>
<path d="M 427.4 473.8 L 429.9 474.7 L 423.6 491.9 L 421.3 490.8 Z" fill="#909193"/>
<path d="M 388.0 439.0 L 392.1 441.5 L 362.5 496.5 L 358.4 494.1 Z" fill="#5b5c5e"/>
<path d="M 370.7 468.6 L 397.0 448.9 L 401.1 457.1 L 375.7 478.4 Z" fill="#3d3e40"/>
<path d="M 375.7 468.6 L 378.0 466.8 L 379.9 472.2 L 377.6 474.0 Z" fill="#e8e8e9"/>
<path d="M 380.3 465.1 L 382.6 463.3 L 384.5 468.8 L 382.2 470.6 Z" fill="#e8e8e9"/>
<path d="M 384.9 461.7 L 387.2 459.9 L 389.1 465.3 L 386.8 467.1 Z" fill="#e8e8e9"/>
<path d="M 389.5 458.2 L 391.8 456.4 L 393.7 461.9 L 391.4 463.7 Z" fill="#e8e8e9"/>
<path d="M 394.1 454.8 L 396.4 453.0 L 398.3 458.4 L 396.0 460.2 Z" fill="#e8e8e9"/>
<path d="M 359.2 483.4 L 367.4 485.0 L 362.5 499.8 L 354.3 496.5 Z" fill="#77787a"/>
<path d="M 351.0 495.7 L 361.7 501.4 L 360.0 503.9 L 350.2 499.0 Z" fill="#2f3032"/>
<path d="M 330.1 509.7 C 330.1 505.1 335.4 502.4 340.3 503.9 C 343.1 507.2 340.8 512.3 335.9 513.9 Z" fill="#8f9092"/>
<path d="M 323.1 518.7 L 332.1 508.0" fill="none" stroke="#e4e4e5" stroke-width="1.6" stroke-linecap="round"/>
<path d="M 331.3 509.7 C 332.1 507.2 334.6 506.0 336.2 507.2" fill="none" stroke="#f0f0f0" stroke-width="1.3"/>
<path d="M 446.3 397.9 C 461.1 396.3 475.9 389.7 492.3 387.7 L 494.0 392.0 C 479.2 394.6 462.7 401.2 448.3 402.5 Z" fill="#e8533d"/>
<path d="M 461.1 396.3 L 485.7 391.0" stroke="#f6a58f" stroke-width="0.9" fill="none"/>
<path d="M 496.4 389.7 C 498.9 386.4 512.0 386.4 518.6 388.9 C 519.4 391.4 515.3 393.3 508.7 393.0 C 502.2 393.3 497.2 392.7 496.4 389.7 Z" fill="#8c8d8f" stroke="#6a6b6d" stroke-width="0.5"/>
<path d="M 507.9 389.4 L 515.3 389.4 L 514.5 391.4 L 508.7 391.4 Z" fill="#d9dadb"/>
</g>
<path d="M 607.9 394.9 C 605.4 415.4 602.2 441.7 603.0 461.4 C 603.8 477.9 612.0 487.7 620.2 496.0 M 612.8 394.9 C 611.2 415.4 607.1 435.2 609.5 451.6 C 612.0 466.4 620.2 477.9 625.2 487.7 M 590.7 473.0 L 605.4 458.2 L 618.6 494.3 M 589.0 477.9 L 597.2 494.3 L 605.4 469.7 L 612.0 496.0" stroke="#d9483a" stroke-width="0.9" stroke-dasharray="1.6 1.2" fill="none"/>
<path d="M 620.6 492.7 C 623.5 490.2 630.1 489.7 633.4 491.8 L 653.4 525.5 C 651.4 530.4 648.2 532.9 645.7 533.7 Z" fill="#e8533d" stroke="#b8402f" stroke-width="0.4"/>
<path d="M 626.8 494.3 L 647.3 528.8" stroke="#f6a58f" stroke-width="1.4" fill="none"/>
<path d="M 644.1 527.2 L 653.9 523.9 L 656.4 530.4 L 647.3 535.0 Z" fill="#ea4b39"/>
<path d="M 649.8 534.5 L 657.2 541.1" stroke="#d9483a" stroke-width="1" stroke-dasharray="1.5 1" fill="none"/>
<path d="M 654.7 543.6 L 662.6 540.0 L 672.0 553.4 L 659.7 552.1 Z" fill="#e8402f"/>
<circle cx="404.8" cy="348.4" r="20.5" fill="#e6e6e7" opacity="0.6" filter="url(#blur1)"/><circle cx="404.8" cy="348.4" r="16.8" fill="#fbfbfb" stroke="#d0303a" stroke-width="2.3"/><text x="404.8" y="355.6" text-anchor="middle" font-family="Liberation Sans, sans-serif" font-weight="bold" font-size="21.5" fill="#1d1d1b">A</text>
<circle cx="652.3" cy="348.1" r="20.5" fill="#e6e6e7" opacity="0.6" filter="url(#blur1)"/><circle cx="652.3" cy="348.1" r="16.8" fill="#fbfbfb" stroke="#d0303a" stroke-width="2.3"/><text x="652.3" y="355.3" text-anchor="middle" font-family="Liberation Sans, sans-serif" font-weight="bold" font-size="21.5" fill="#1d1d1b">B</text>
<rect x="680.3" y="581.8" width="52" height="13.4" fill="#f0f0f1" stroke="#9a9b9d" stroke-width="0.9"/>
<text x="705.8" y="592.2" text-anchor="middle" font-family="Liberation Sans, sans-serif" font-weight="bold" font-size="8.2" fill="#555658" textLength="37" lengthAdjust="spacingAndGlyphs">B7V-0818</text>
</g>
<rect x="728" y="305" width="3.2" height="290" fill="#e6e7e8" opacity="0.8"/>
<rect x="731.2" y="304" width="1.5" height="292" fill="#a0a1a3"/>
<rect x="732.6" y="304" width="1.4" height="292" fill="#7d7e80"/>
<path d="M83.85 304.62 L734 304.62" stroke="#28292b" stroke-width="1.4"/>
<path d="M83.85 595.3 L734 595.3" stroke="#58595b" stroke-width="1.4"/>
<rect x="83.85" y="304" width="1.4" height="292" fill="#4a4b4d"/>
<rect x="85.25" y="305.3" width="0.8" height="289.3" fill="#8f9092" opacity="0.7"/>
</svg>
<div class="ln " id="l0" style="left:84.3px;top:84px;letter-spacing:0.562px;"><span class="in"><i class="bl"></i>We recommend you to always include the</span></div>
<div class="ln " id="l1" style="left:84.3px;top:108px;letter-spacing:0.632px;"><span class="in"><i class="bl"></i>manufacturer's Child Seat Instruction Manual</span></div>
<div class="ln " id="l2" style="left:84.3px;top:131px;letter-spacing:0.762px;"><span class="in"><i class="bl"></i>together with the on-board documentation.</span></div>
<div class="ln " id="l3" style="left:84.3px;top:165px;letter-spacing:0.384px;"><span class="in"><i class="bl"></i>SEAT recommends you use child seats from</span></div>
<div class="ln " id="l4" style="left:84.3px;top:188px;letter-spacing:0.221px;"><span class="in"><i class="bl"></i>the <b>Original Accessories Catalogue</b>. These</span></div>
<div class="ln " id="l5" style="left:483.7px;top:84px;letter-spacing:0.634px;"><span class="in"><i class="bl"></i>child seats have been designed and tested</span></div>
<div class="ln " id="l6" style="left:483.7px;top:108px;letter-spacing:0.374px;"><span class="in"><i class="bl"></i>for use in SEAT vehicles. You can find the</span></div>
<div class="ln " id="l7" style="left:483.7px;top:131px;letter-spacing:0.616px;"><span class="in"><i class="bl"></i>right child seat for your model and age group</span></div>
<div class="ln " id="l8" style="left:483.7px;top:154px;letter-spacing:0.079px;"><span class="in"><i class="bl"></i>at SEAT dealers.</span></div>
<div class="ln " id="l9" style="left:84.3px;top:611px;letter-spacing:0.415px;"><span class="in"><i class="bl"></i>Figure <svg class="chev" viewBox="0 0 16.7 10.2" width="16.7" height="10.2"><use href="#chevicon"/></svg> <b class='red'>Fig. 25</b> <svg class="circ" viewBox="0 0 22.4 22.4" width="22.4" height="22.4"><circle cx="11.2" cy="11.2" r="10.25" fill="none" stroke="#cf2340" stroke-width="1.75"/><text x="11.2" y="15.9" text-anchor="middle" font-family="Liberation Sans, sans-serif" font-weight="bold" font-size="13.2" fill="#1d1d1b">A</text></svg> shows the basic child re-</span></div>
<div class="ln " id="l10" style="left:84.3px;top:637px;letter-spacing:0.687px;"><span class="in"><i class="bl"></i>straint system mounting using lower retain-</span></div>
<div class="ln " id="l11" style="left:84.3px;top:660px;letter-spacing:0.614px;"><span class="in"><i class="bl"></i>ing rings and the upper retaining strap. Fig-</span></div>
<div class="ln " id="l12" style="left:84.3px;top:680px;letter-spacing:0.544px;"><span class="in"><i class="bl"></i>ure <svg class="chev" viewBox="0 0 16.7 10.2" width="16.7" height="10.2"><use href="#chevicon"/></svg> <b class='red'>Fig. 25</b> <svg class="circ" viewBox="0 0 22.4 22.4" width="22.4" height="22.4"><circle cx="11.2" cy="11.2" r="10.25" fill="none" stroke="#cf2340" stroke-width="1.75"/><text x="11.2" y="15.9" text-anchor="middle" font-family="Liberation Sans, sans-serif" font-weight="bold" font-size="13.2" fill="#1d1d1b">B</text></svg> shows the child restraint</span></div>
<div class="ln " id="l13" style="left:84.3px;top:707px;letter-spacing:0.673px;"><span class="in"><i class="bl"></i>system mounting using the vehicle seat belt.</span></div>
<div class="ln " id="l14" style="left:84.3px;top:741px;letter-spacing:0.432px;"><span class="in"><i class="bl"></i>You can secure a child seat to the rear seat or</span></div>
<div class="ln " id="l15" style="left:84.3px;top:764px;letter-spacing:0.613px;"><span class="in"><i class="bl"></i>front passenger seat in the following ways:</span></div>
<div class="ln " id="l16" style="left:84.3px;top:803px;letter-spacing:0.548px;"><span class="in"><i class="bl"></i><span class="bul"></span> Child seats in groups <b>0 to 3</b> can be secured</span></div>
<div class="ln " id="l17" style="left:84.3px;top:827px;letter-spacing:0.622px;"><span class="in"><i class="bl"></i>with a seat belt.</span></div>
<div class="ln " id="l18" style="left:483.7px;top:614px;letter-spacing:0.675px;"><span class="in"><i class="bl"></i><span class="bul"></span> Child seats for groups <b>0, 0+ and 1</b> can be</span></div>
<div class="ln " id="l19" style="left:483.7px;top:637px;letter-spacing:0.694px;"><span class="in"><i class="bl"></i>fastened without seatbelts, using the “ISO-</span></div>
<div class="ln " id="l20" style="left:483.7px;top:660px;letter-spacing:0.459px;"><span class="in"><i class="bl"></i>FIX” system, using the “ISOFIX” <svg class="chev" viewBox="0 0 16.7 10.2" width="16.7" height="10.2"><use href="#chevicon"/></svg> <b class='grey'>page 23</b></span></div>
<div class="ln " id="l21" style="left:483.7px;top:683px;letter-spacing:0.636px;"><span class="in"><i class="bl"></i>securing rings.</span></div>
<div class="ln " id="l22" style="left:483.7px;top:713px;letter-spacing:0.688px;"><span class="in"><i class="bl"></i><span class="bul"></span> During installation of some models of</span></div>
<div class="ln " id="l23" style="left:483.7px;top:737px;letter-spacing:0.482px;"><span class="in"><i class="bl"></i>group I, II and III child seats in the rear seat,</span></div>
<div class="ln " id="l24" style="left:483.7px;top:760px;letter-spacing:0.726px;"><span class="in"><i class="bl"></i>difficulty may arise in mounting given that</span></div>
<div class="ln " id="l25" style="left:483.7px;top:783px;letter-spacing:0.575px;"><span class="in"><i class="bl"></i>the seat comes into contact with the head re-</span></div>
<div class="ln " id="l26" style="left:483.7px;top:806px;letter-spacing:0.636px;"><span class="in"><i class="bl"></i>straint. In this case, adjust the height of the</span></div>
<div class="ln " id="l27" style="left:483.7px;top:829px;letter-spacing:0.552px;"><span class="in"><i class="bl"></i>head restraint or remove it from the seat fol-</span></div>
<div class="ln " id="l28" style="left:483.7px;top:852px;letter-spacing:0.731px;"><span class="in"><i class="bl"></i>lowing the instructions in the corresponding</span></div>
<div class="ln " id="l29" style="left:883.1px;top:611px;letter-spacing:0.512px;"><span class="in"><i class="bl"></i>chapter <svg class="chev" viewBox="0 0 16.7 10.2" width="16.7" height="10.2"><use href="#chevicon"/></svg> <svg class="book" viewBox="0 0 32 20" width="31.6" height="19.75"><use href="#bookicon"/></svg> <b class='grey'>page 134</b>. Once you remove</span></div>
<div class="ln " id="l30" style="left:883.1px;top:637px;letter-spacing:0.589px;"><span class="in"><i class="bl"></i>the child seat, replace the head restraint in</span></div>
<div class="ln " id="l31" style="left:883.1px;top:660px;letter-spacing:0.778px;"><span class="in"><i class="bl"></i>its original position.</span></div>
<div class="ln wb" id="l32" style="left:894.2px;top:122px;letter-spacing:0.027px;"><span class="in"><i class="bl"></i>Read and always observe information and</span></div>
<div class="ln wb" id="l33" style="left:894.2px;top:143px;transform:scaleX(0.9991);"><span class="in"><i class="bl"></i>warnings concerning the use of child seats</span></div>
<div class="ln wb" id="l34" style="left:894.2px;top:162px;transform:scaleX(0.9902);"><span class="in"><i class="bl"></i><svg class="chev" viewBox="0 0 16.7 10.2" width="16.7" height="10.2"><use href="#chevicon"/></svg> <svg class="book" viewBox="0 0 32 20" width="31.6" height="19.75"><use href="#bookicon"/></svg> <span class='grey'>page 79</span>.</span></div>
<div class="ln wt" id="l35" style="left:925.8px;top:91px;transform:scaleX(0.8945);"><span class="in"><i class="bl"></i>WARNING</span></div>
<div class="ln ht" id="l36" style="left:602.0px;top:35px;transform:scaleX(0.9037);"><span class="in"><i class="bl"></i>The essentials</span></div>
<div class="ln sh" id="l37" style="left:95.8px;top:261px;transform:scaleX(0.9221);"><span class="in"><i class="bl"></i>Ways to secure a child seat</span></div>
<div class="ln cap" id="l38" style="left:745.1px;top:570px;letter-spacing:0.645px;"><span class="in"><i class="bl"></i><b class='red capfig'>Fig. 25</b>On the rear seats: Possible installations for the child seat.</span></div>
<div class="ln pn" id="l39" style="left:26.8px;top:880px;transform:scaleX(0.9475);"><span class="in"><i class="bl"></i>22</span></div>
</body></html>
